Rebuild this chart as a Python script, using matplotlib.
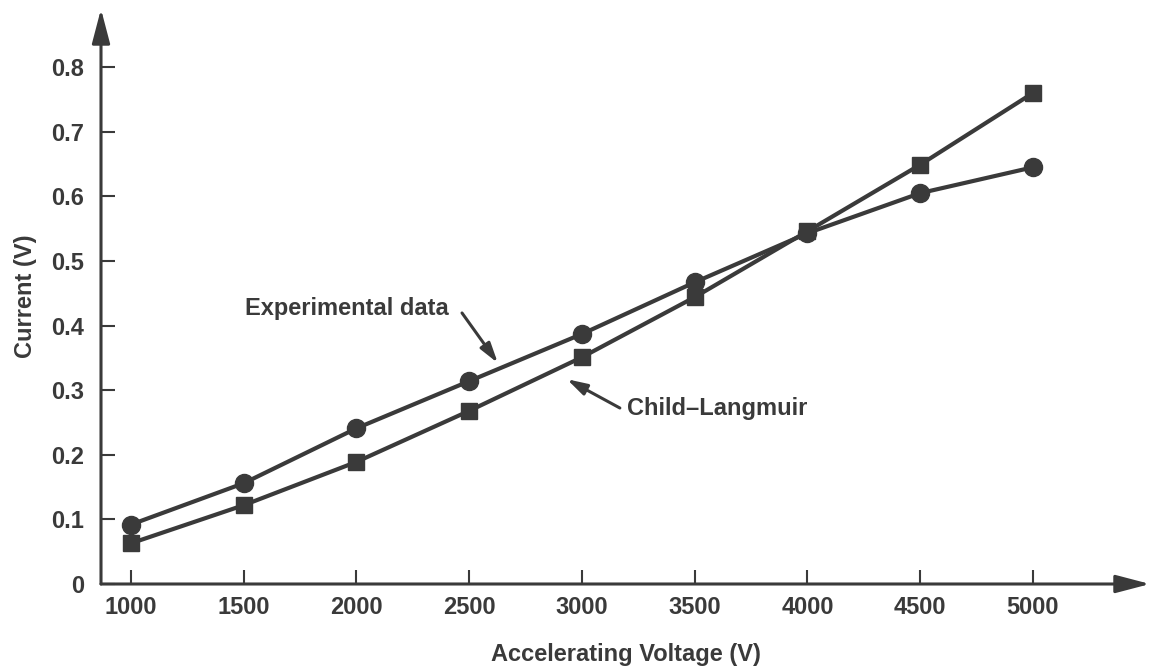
import matplotlib
matplotlib.use('Agg')
import matplotlib.pyplot as plt

# data
voltage = [1000, 1500, 2000, 2500, 3000, 3500, 4000, 4500, 5000]
experimental = [0.092, 0.156, 0.241, 0.314, 0.387, 0.467, 0.543, 0.605, 0.645]
child_langmuir = [0.063, 0.122, 0.189, 0.268, 0.351, 0.444, 0.546, 0.649, 0.760]
x_ticks = [1000, 1500, 2000, 2500, 3000, 3500, 4000, 4500, 5000]
y_ticks = [0, 0.1, 0.2, 0.3, 0.4, 0.5, 0.6, 0.7, 0.8]
y_tick_labels = ['0', '0.1', '0.2', '0.3', '0.4', '0.5', '0.6', '0.7', '0.8']

ink = '#3a3a3a'
plt.rcParams['font.family'] = ['Liberation Sans', 'DejaVu Sans']
plt.rcParams['font.weight'] = 'bold'
fs = 17

fig = plt.figure(figsize=(11.53, 6.68), dpi=100)
ax = fig.add_axes([101/1153, (668-584)/668, (1150-101)/1153, (584-9)/668])

ax.set_xlim(867, 5519)
ax.set_ylim(0, 0.89)

ax.plot(voltage, experimental, color=ink, lw=3, marker='o', ms=13, zorder=3)
ax.plot(voltage, child_langmuir, color=ink, lw=3, marker='s', ms=12, zorder=3)

# axes drawn as arrows
for s in ax.spines.values():
    s.set_visible(False)
arrow = dict(arrowstyle='-|>,head_length=2.1,head_width=0.55', color=ink, lw=2.2,
             shrinkA=0, shrinkB=0)
ax.annotate('', xy=(1, 0), xytext=(0, 0), xycoords='axes fraction', arrowprops=arrow)
ax.annotate('', xy=(0, 1), xytext=(0, 0), xycoords='axes fraction', arrowprops=arrow)

ax.set_xticks(x_ticks)
ax.set_yticks(y_ticks)
ax.set_yticklabels(y_tick_labels)
ax.tick_params(direction='in', length=10, width=1.5, color=ink, labelcolor=ink,
               labelsize=fs)
ax.tick_params(axis='x', pad=9)
ax.tick_params(axis='y', pad=12)

ax.set_xlabel('Accelerating Voltage (V)', fontsize=fs, fontweight='bold', color=ink,
              labelpad=17)
ax.set_ylabel('Current (V)', fontsize=fs, fontweight='bold', color=ink, labelpad=10)

# annotations
note_arrow = dict(arrowstyle='-|>,head_length=1.2,head_width=0.35', color=ink,
                  lw=2.2, shrinkA=0, shrinkB=0)
ax.annotate('', xy=(2627, 0.342), xytext=(2468, 0.4195), arrowprops=note_arrow)
ax.text(1506, 0.4257, 'Experimental data', fontsize=fs, fontweight='bold', color=ink,
        ha='left', va='center')
ax.annotate('', xy=(2933, 0.317), xytext=(3168, 0.2724), arrowprops=note_arrow)
ax.text(3200, 0.2724, 'Child\u2013Langmuir', fontsize=fs, fontweight='bold', color=ink,
        ha='left', va='center')

fig.savefig('out.png', dpi=100)
